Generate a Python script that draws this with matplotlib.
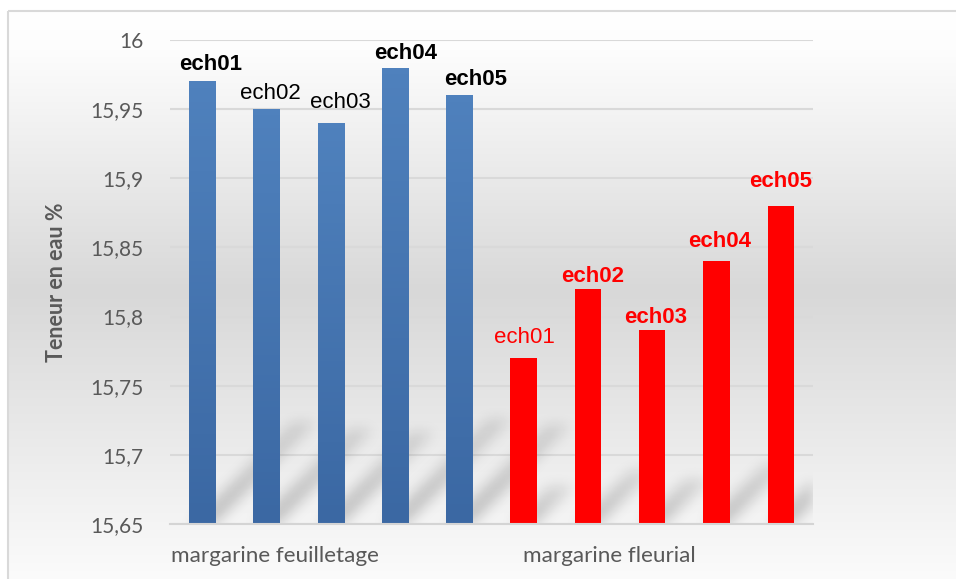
import numpy as np
import matplotlib.pyplot as plt
from matplotlib.patches import Rectangle
from matplotlib.colors import LinearSegmentedColormap

# water content per sample, two margarines
groups = ["margarine feuilletage", "margarine fleurial"]
samples = ["ech01", "ech02", "ech03", "ech04", "ech05"]
feuilletage = [15.97, 15.95, 15.94, 15.98, 15.96]
fleurial = [15.77, 15.82, 15.79, 15.84, 15.88]
feuilletage_bold = [True, False, False, True, True]
fleurial_bold = [False, True, True, True, True]
yticks = [15.65, 15.7, 15.75, 15.8, 15.85, 15.9, 15.95, 16]
ytick_labels = ["15,65", "15,7", "15,75", "15,8", "15,85", "15,9", "15,95", "16"]

# label nudges (dx, gap above bar), in pixels
nudge_f = [(8.5, 11), (4, 10.5), (9.5, 15), (10.5, 9), (16, 10)]
nudge_r = [(1, 15), (5, 7), (3, 7), (3, 14), (0, 19)]

YMIN, YMAX = 15.65, 16.0
BAR_W = 0.41
GREY = "#595959"
W, H = 956, 579


def blur(a, sigma):
    r = int(3 * sigma)
    k = np.exp(-0.5 * (np.arange(-r, r + 1) / sigma) ** 2)
    k /= k.sum()
    a = np.apply_along_axis(lambda m: np.convolve(m, k, mode="same"), 0, a)
    a = np.apply_along_axis(lambda m: np.convolve(m, k, mode="same"), 1, a)
    return a


fig = plt.figure(figsize=(W / 100, H / 100), dpi=100)
fig.patch.set_facecolor("white")

# chart area background with vertical grey gradient and light border
bg = fig.add_axes([0, 0, 1, 1], zorder=-10)
bg.set_xlim(0, W)
bg.set_ylim(H, 0)
bg.axis("off")
yy = np.arange(10, H + 5)
shade = np.interp(yy, [10, 50, 290, 579], [255, 253, 216, 251]) / 255
grad = np.repeat(shade[:, None], 2, axis=1)
bg.imshow(np.dstack([grad, grad, grad]), extent=(8, W + 5, H + 5, 10),
          aspect="auto", interpolation="bilinear")
bg.add_patch(Rectangle((8.5, 10.5), W, H, fill=False, ec="#d9d9d9", lw=1.5))

ax = fig.add_axes([170 / W, 1 - 524 / H, 643 / W, 484 / H])
ax.set_facecolor("none")

values = feuilletage + fleurial
pos = np.arange(len(values))

# perspective shadows leaning up-right behind the bars
nx, ny = 643, 484
px_x = nx / len(values)
px_y = ny / (YMAX - YMIN)
Xp = np.arange(nx) + 0.5
Yp = np.arange(ny) + 0.5
sh = np.zeros((ny, nx))
for x, v in zip(pos, values):
    L = 0.23 * (v - YMIN) * px_y
    cx = (x + 0.5) * px_x
    half = BAR_W / 2 * px_x * 0.9
    inside = (Yp[:, None] <= L) & (Xp[None, :] >= cx - half + Yp[:, None]) & \
             (Xp[None, :] <= cx + half + Yp[:, None])
    fade = np.clip(1 - 0.5 * Yp / max(L, 1), 0, 1)
    sh = np.maximum(sh, inside * fade[:, None])
sh = blur(sh, 6.5)
rgba = np.zeros((ny, nx, 4))
rgba[..., 3] = 0.22 * sh
ax.imshow(rgba, extent=(-0.5, len(values) - 0.5, YMIN, YMAX), origin="lower",
          aspect="auto", interpolation="bilinear", zorder=1)

blue_cmap = LinearSegmentedColormap.from_list("blu", ["#3b68a3", "#4f81bd"])
n = len(feuilletage)
bars = ax.bar(pos[:n], [v - YMIN for v in feuilletage], bottom=YMIN,
              width=BAR_W, color="#4a7ab5", zorder=2)
for b in bars:
    x0, y0 = b.get_x(), b.get_y()
    img = ax.imshow(np.linspace(0, 1, 64)[:, None], cmap=blue_cmap, origin="lower",
                    extent=(x0, x0 + b.get_width(), y0, y0 + b.get_height()),
                    aspect="auto", zorder=2.1)
    img.set_clip_path(b)
ax.bar(pos[n:], [v - YMIN for v in fleurial], bottom=YMIN,
       width=BAR_W, color="#ff0000", zorder=2)
ax.set_xlim(-0.5, len(values) - 0.5)
ax.set_ylim(YMIN, YMAX)

# sample labels above bars
for i, name in enumerate(samples):
    dx, gap = nudge_f[i]
    ax.annotate(name, (pos[i], feuilletage[i]), xytext=(dx * 0.72, gap * 0.72),
                textcoords="offset points", ha="center", va="baseline",
                fontsize=16, family="Liberation Sans", color="black",
                fontweight="bold" if feuilletage_bold[i] else "normal", zorder=3)
    dx, gap = nudge_r[i]
    ax.annotate(name, (pos[n + i], fleurial[i]), xytext=(dx * 0.72, gap * 0.72),
                textcoords="offset points", ha="center", va="baseline",
                fontsize=16, family="Liberation Sans", color="#ff0000",
                fontweight="bold" if fleurial_bold[i] else "normal", zorder=3)

ax.set_yticks(yticks)
ax.set_yticklabels(ytick_labels, family="Lato", fontsize=15, color=GREY)
ax.tick_params(axis="y", length=0, pad=19)
ax.set_xticks([])
ax.grid(axis="y", color="#d9d9d9", lw=1.5)
ax.set_axisbelow(True)
for s in ["top", "right", "left"]:
    ax.spines[s].set_visible(False)
ax.spines["bottom"].set_color("#d4d4d4")
ax.spines["bottom"].set_linewidth(1.5)

# group labels under the axis
tr = ax.get_xaxis_transform()
ax.text(-0.48, -0.079, groups[0], transform=tr, ha="left", va="baseline",
        family="Lato", fontsize=16.2, color=GREY)
ax.text(6.34, -0.079, groups[1], transform=tr, ha="center", va="baseline",
        family="Lato", fontsize=16.2, color=GREY)

fig.text(57 / W, 1 - 282 / H, "Teneur en eau %", rotation=90, ha="center",
         va="center", family="Lato", fontweight="bold", fontsize=15.5, color=GREY)

fig.savefig("out.png", dpi=100)
